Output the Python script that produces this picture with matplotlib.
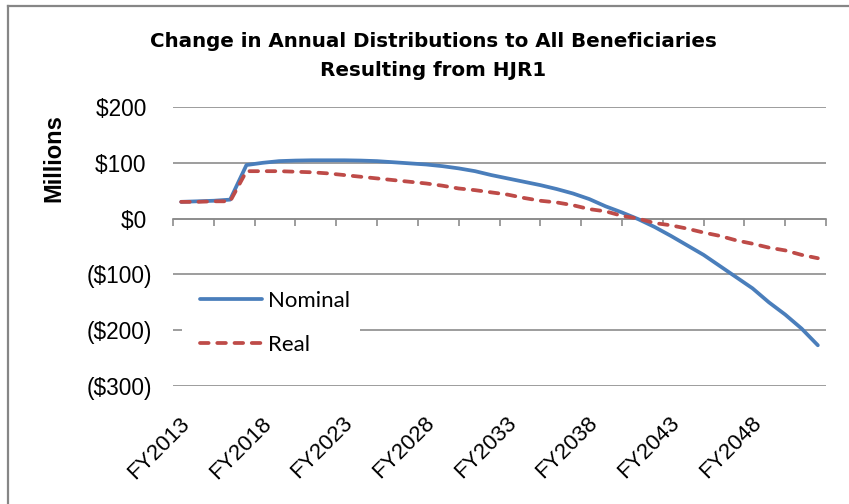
import matplotlib
matplotlib.use("Agg")
import matplotlib.pyplot as plt
from matplotlib.lines import Line2D
from matplotlib.patches import Rectangle
import matplotlib.transforms as mtransforms
import numpy as np

years = list(range(2013, 2053))
nominal = [30, 31, 32, 34, 96, 100, 103, 104, 104.5, 104.5,
           104.5, 104, 103, 101, 99, 97, 94, 90, 85, 78,
           72, 66, 60, 53, 45, 35, 22, 11, -1, -15,
           -31, -48, -65, -85, -105, -125, -150, -172, -197, -227]
real = [30, 30, 31, 31, 85, 85, 85, 84, 83, 81,
        78, 75, 72, 69, 66, 63, 59, 54, 51, 47,
        43, 37, 32, 29, 24, 17, 13, 5, 0, -8,
        -12, -18, -25, -31, -39, -45, -52, -57, -65, -71]
yticks = [200, 100, 0, -100, -200, -300]
ytick_labels = ["$200 ", "$100 ", "$0 ", "($100)", "($200)", "($300)"]
xlabel_years = [2013, 2018, 2023, 2028, 2033, 2038, 2043, 2048]
xlabels = ["FY2013", "FY2018", "FY2023", "FY2028", "FY2033", "FY2038", "FY2043", "FY2048"]

W, H = 849, 504
fig = plt.figure(figsize=(W / 100, H / 100), dpi=100)
plt.rcParams['font.family'] = ['Liberation Sans', 'DejaVu Sans']

ax = fig.add_axes([173 / W, 1 - 386 / H, (826 - 173) / W, (386 - 107) / H])
ax.set_xlim(2012.5, 2052.5)
ax.set_ylim(-300, 200)

grid_c = '#8c8c8c'
for s in ['top', 'right', 'left']:
    ax.spines[s].set_visible(False)
ax.spines['bottom'].set_position(('data', 0))
ax.spines['bottom'].set_color(grid_c)
ax.spines['bottom'].set_linewidth(1.2)
ax.set_xticks(np.arange(2012.5, 2052.6, 2.5))
ax.tick_params(axis='x', direction='out', length=5, width=1.2, color=grid_c, labelbottom=False)
ax.set_yticks(yticks)
ax.set_yticklabels(ytick_labels, fontsize=16.3)
ax.tick_params(axis='y', length=0, pad=15)
ax.yaxis.grid(True, color=grid_c, linewidth=1.2)
ax.set_axisbelow(True)

l1, = ax.plot(years, nominal, color='#4A7EBB', lw=2.7, solid_capstyle='round', label='Nominal', zorder=3)
l2, = ax.plot(years, real, color='#BE4B48', lw=2.7, dashes=(2.3, 2.3), dash_capstyle='round', label='Real', zorder=3)

# category labels, rotated, anchored near each category center below the plot
trans = mtransforms.blended_transform_factory(ax.transData, ax.transAxes)
off = mtransforms.ScaledTranslation(-2 / 100, 0, fig.dpi_scale_trans)
for yr, lab in zip(xlabel_years, xlabels):
    ax.text(yr, -27 / (386 - 107), lab, transform=trans + off, rotation=45,
            ha='right', va='top', rotation_mode='anchor', fontsize=16)

# white legend background covering gridline
ax.add_patch(Rectangle((9 / 653, 28 / 279), 178 / 653, 73 / 279, transform=ax.transAxes,
                       facecolor='white', edgecolor='none', zorder=1))
leg = ax.legend(handles=[l1, l2], loc='upper left', bbox_to_anchor=(27 / 653, 95 / 279),
                frameon=False, fontsize=16, handlelength=2.8, handletextpad=0.27,
                labelspacing=1.07, borderpad=0, borderaxespad=0)
for t in leg.get_texts():
    t.set_family(['Lato', 'DejaVu Sans'])

title_font = ['DejaVu Sans']
fig.text(433 / W, 1 - 47 / H, "Change in Annual Distributions to All Beneficiaries",
         ha='center', va='baseline', fontsize=14.3, fontweight='bold', family=title_font)
fig.text(433 / W, 1 - 76 / H, "Resulting from HJR1",
         ha='center', va='baseline', fontsize=14.3, fontweight='bold', family=title_font)
fig.text(53.5 / W, 1 - 158 / H, "Millions", rotation=90, ha='center', va='center',
         fontsize=17, fontweight='bold')

# chart border (top and left)
fig.add_artist(Line2D([8 / W, 1], [1 - 6 / H, 1 - 6 / H], transform=fig.transFigure, color='#868686', lw=1.6))
fig.add_artist(Line2D([8 / W, 8 / W], [0, 1 - 6 / H], transform=fig.transFigure, color='#868686', lw=1.6))

fig.savefig('out.png', dpi=100)
